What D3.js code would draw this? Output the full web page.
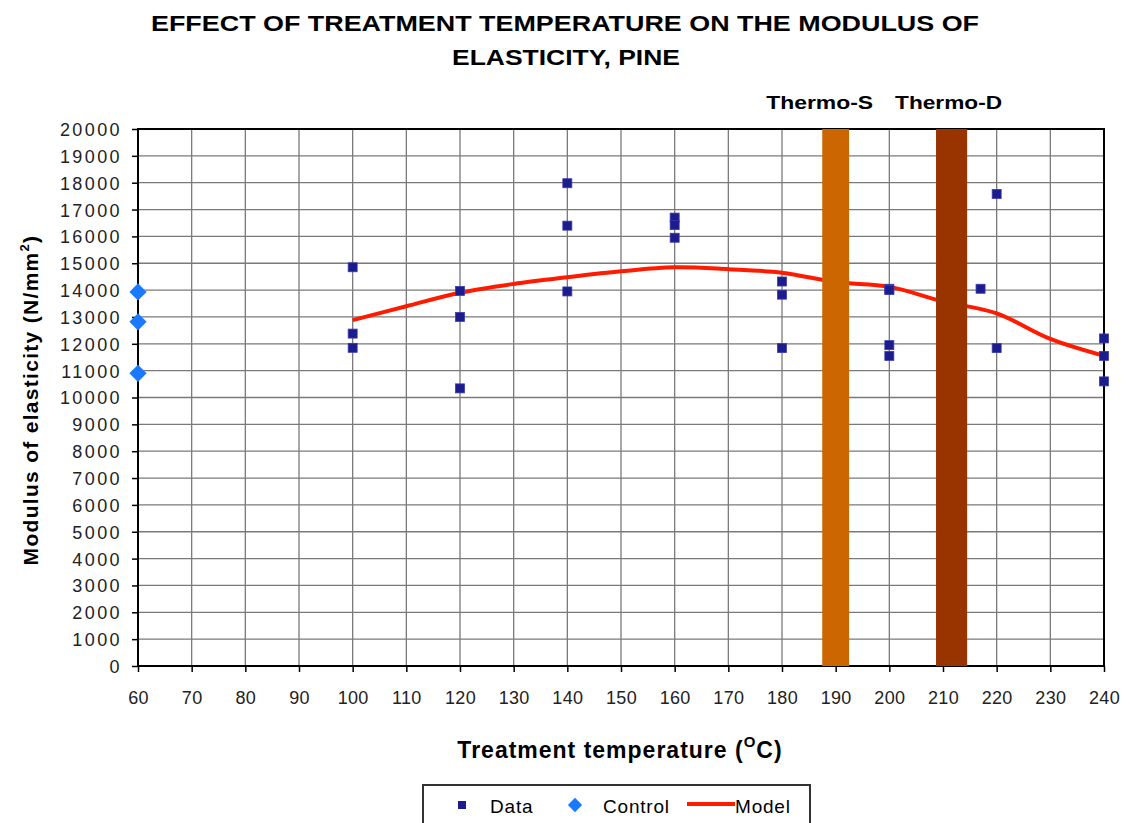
<!DOCTYPE html>
<html>
<head>
<meta charset="utf-8">
<script src="https://cdn.jsdelivr.net/npm/d3@7"></script>
<style>
  body { margin: 0; background: #fff; }
  svg { font-family: "Liberation Sans", Arial, sans-serif; }
</style>
</head>
<body>
<div id="chart"></div>
<script>
// Data
var dataTemp = [100, 100, 100, 120, 120, 120, 140, 140, 140, 160, 160, 160, 180, 180, 180, 200, 200, 200, 200, 217, 220, 220, 240, 240, 240];
var dataMoe = [14850, 12380, 11850, 13970, 13000, 10340, 17980, 16400, 13950, 16700, 16420, 15950, 14320, 13830, 11840, 14050, 14000, 11950, 11550, 14050, 17580, 11840, 12200, 11550, 10600];

var controlTemp = [60, 60, 60];
var controlMoe = [13930, 12820, 10900];

var modelTemp = [100, 110, 120, 130, 140, 150, 160, 170, 180, 190, 200, 210, 220, 230, 240];
var modelMoe = [12880, 13400, 13900, 14230, 14480, 14700, 14850, 14780, 14650, 14300, 14120, 13580, 13130, 12180, 11550];

var bandNames = ["Thermo-S", "Thermo-D"];
var bandStart = [187.5, 208.7];
var bandEnd = [192.5, 214.5];
var bandColors = ["#CC6600", "#993300"];

var xTicks = d3.range(60, 241, 10);
var yTicks = d3.range(0, 20001, 1000);

// svg size and plot box
var svgWidth = 1130;
var svgHeight = 823;
var margin = { top: 129, right: 26, bottom: 157, left: 138 };
var width = svgWidth - margin.left - margin.right;
var height = svgHeight - margin.top - margin.bottom;

var svg = d3.select("#chart").append("svg")
  .attr("width", svgWidth)
  .attr("height", svgHeight);

var g = svg.append("g")
  .attr("transform", `translate(${margin.left}, ${margin.top})`);

var x = d3.scaleLinear().domain([60, 240]).range([0, width]);
var y = d3.scaleLinear().domain([0, 20000]).range([height, 0]);

// title (tall, narrow lettering in the original)
svg.append("text")
  .attr("x", 565).attr("y", 31)
  .attr("text-anchor", "middle")
  .attr("textLength", 828).attr("lengthAdjust", "spacingAndGlyphs")
  .style("font-size", "22px").style("font-weight", "bold")
  .text("EFFECT OF TREATMENT TEMPERATURE ON THE MODULUS OF");
svg.append("text")
  .attr("x", 566).attr("y", 65)
  .attr("text-anchor", "middle")
  .attr("textLength", 228).attr("lengthAdjust", "spacingAndGlyphs")
  .style("font-size", "22px").style("font-weight", "bold")
  .text("ELASTICITY, PINE");

// gridlines
g.append("g")
  .selectAll("line")
  .data(yTicks)
  .enter().append("line")
  .attr("x1", 0).attr("x2", width)
  .attr("y1", d => y(d)).attr("y2", d => y(d))
  .attr("stroke", "#7a7a7a").attr("stroke-width", 1.3);

g.append("g")
  .selectAll("line")
  .data(xTicks)
  .enter().append("line")
  .attr("y1", 0).attr("y2", height)
  .attr("x1", d => x(d)).attr("x2", d => x(d))
  .attr("stroke", "#7a7a7a").attr("stroke-width", 1.3);

// axes
var leftAxis = d3.axisLeft(y).tickValues(yTicks).tickSize(6).tickPadding(10).tickFormat(d3.format("d"));
var bottomAxis = d3.axisBottom(x).tickValues(xTicks).tickSize(6).tickPadding(19).tickFormat(d3.format("d"));

var yAxis = g.append("g").call(leftAxis);
var xAxis = g.append("g").attr("transform", `translate(0, ${height})`).call(bottomAxis);

[yAxis, xAxis].forEach(function(ax) {
  ax.select(".domain").remove();
  ax.selectAll(".tick line").attr("stroke", "#000").attr("stroke-width", 1.5);
  ax.selectAll("text").attr("fill", "#222").style("font-size", "18px");
});
yAxis.selectAll("text").style("letter-spacing", "2.4px").attr("dy", "0.36em");
xAxis.selectAll("text").style("letter-spacing", "0.3px");

// plot border
g.append("rect")
  .attr("x", 0).attr("y", 0)
  .attr("width", width).attr("height", height)
  .attr("fill", "none")
  .attr("stroke", "#000").attr("stroke-width", 2);

// model line
var line = d3.line()
  .x((d, i) => x(modelTemp[i]))
  .y(d => y(d))
  .curve(d3.curveCatmullRom);

g.append("path")
  .datum(modelMoe)
  .attr("d", line)
  .attr("fill", "none")
  .attr("stroke", "#ff1a00")
  .attr("stroke-width", 4);

// Thermo bands sit over the line
g.selectAll(".band")
  .data(bandNames)
  .enter().append("rect")
  .attr("class", "band")
  .attr("x", (d, i) => x(bandStart[i]))
  .attr("width", (d, i) => x(bandEnd[i]) - x(bandStart[i]))
  .attr("y", 0)
  .attr("height", height)
  .attr("fill", (d, i) => bandColors[i]);

g.selectAll(".bandLabel")
  .data(bandNames)
  .enter().append("text")
  .attr("class", "bandLabel")
  .attr("x", (d, i) => x((bandStart[i] + bandEnd[i]) / 2) - (i == 0 ? 16 : 3))
  .attr("y", -20)
  .attr("text-anchor", "middle")
  .attr("textLength", 107).attr("lengthAdjust", "spacingAndGlyphs")
  .style("font-size", "19px").style("font-weight", "bold")
  .text(d => d);

// data squares
g.selectAll(".dataPt")
  .data(dataMoe)
  .enter().append("rect")
  .attr("class", "dataPt")
  .attr("x", (d, i) => x(dataTemp[i]) - 4.5)
  .attr("y", d => y(d) - 4.5)
  .attr("width", 9).attr("height", 9)
  .attr("fill", "#1c1c8c")
  .attr("stroke", "#3a3ab0").attr("stroke-width", 0.8);

// control diamonds
var diamond = d3.symbol().type(d3.symbolDiamond2).size(190);
g.selectAll(".ctrlPt")
  .data(controlMoe)
  .enter().append("path")
  .attr("class", "ctrlPt")
  .attr("d", diamond)
  .attr("transform", (d, i) => `translate(${x(controlTemp[i])}, ${y(d)})`)
  .attr("fill", "#1a7aff");

// axis titles
svg.append("text")
  .attr("x", 620).attr("y", 758)
  .attr("text-anchor", "middle")
  .style("font-size", "23px").style("font-weight", "bold")
  .style("letter-spacing", "1px")
  .html('Treatment temperature (<tspan dy="-11" style="font-size:15px">O</tspan><tspan dy="11">C)</tspan>');

svg.append("text")
  .attr("transform", "translate(38, 400) rotate(-90)")
  .attr("text-anchor", "middle")
  .style("font-size", "21px").style("font-weight", "bold")
  .style("letter-spacing", "1.3px")
  .html('Modulus of elasticity (N/mm<tspan dy="-9" style="font-size:13px">2</tspan><tspan dy="9">)</tspan>');

// legend
var legend = svg.append("g");
legend.append("rect")
  .attr("x", 423).attr("y", 785)
  .attr("width", 387).attr("height", 48)
  .attr("fill", "#fff")
  .attr("stroke", "#333").attr("stroke-width", 2);
legend.append("rect")
  .attr("x", 458).attr("y", 801).attr("width", 8).attr("height", 8)
  .attr("fill", "#1c1c8c");
legend.append("text").attr("x", 490).attr("y", 813).style("font-size", "19px").style("letter-spacing", "0.8px").text("Data");
legend.append("path")
  .attr("d", d3.symbol().type(d3.symbolDiamond2).size(130))
  .attr("transform", "translate(575, 805)")
  .attr("fill", "#1a7aff");
legend.append("text").attr("x", 603).attr("y", 813).style("font-size", "19px").style("letter-spacing", "0.8px").text("Control");
legend.append("line")
  .attr("x1", 687).attr("x2", 735).attr("y1", 804).attr("y2", 804)
  .attr("stroke", "#ff1a00").attr("stroke-width", 4);
legend.append("text").attr("x", 735).attr("y", 813).style("font-size", "19px").style("letter-spacing", "0.8px").text("Model");
</script>
</body>
</html>
